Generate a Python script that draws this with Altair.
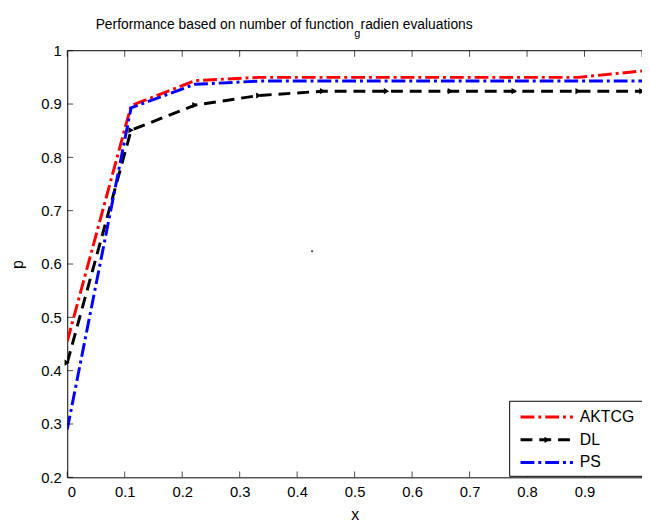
import altair as alt
import pandas as pd

# ---------------- data ----------------
x_vals = [0, 0.1111, 0.2222, 0.3333, 0.4444, 0.5556, 0.6667, 0.7778, 0.8889, 1.0]
aktcg = [0.455, 0.897, 0.944, 0.950, 0.950, 0.950, 0.950, 0.950, 0.950, 0.962]
dl = [0.415, 0.851, 0.898, 0.916, 0.924, 0.924, 0.924, 0.924, 0.924, 0.924]
ps = [0.290, 0.893, 0.937, 0.943, 0.943, 0.943, 0.943, 0.943, 0.943, 0.943]

series_names = ["AKTCG", "DL", "PS"]
series_values = [aktcg, dl, ps]
series_colors = ["#ff0000", "#000000", "#0000ff"]
series_dash = [[14, 4, 3, 4], [12, 7], [14, 4, 3, 4]]

x_ticks = [0, 0.1, 0.2, 0.3, 0.4, 0.5, 0.6, 0.7, 0.8, 0.9]
x_ticks_marks = [0, 0.1, 0.2, 0.3, 0.4, 0.5, 0.6, 0.7, 0.8, 0.9, 1.0]
y_ticks = [0.2, 0.3, 0.4, 0.5, 0.6, 0.7, 0.8, 0.9, 1.0]

stray_x = [0.426]
stray_y = [0.624]

FONT = "Liberation Sans"
W, H = 582, 432

xscale = alt.Scale(domain=[0, 1], nice=False, zero=False)
yscale = alt.Scale(domain=[0.2, 1], nice=False, zero=False)

one = pd.DataFrame({"k": [0]})

layers = []

# data lines
for name, vals, col, dash in zip(series_names, series_values, series_colors, series_dash):
    d = pd.DataFrame({"x": x_vals, "p": vals, "series": name})
    base = alt.Chart(d)
    line = base.mark_line(color=col, strokeWidth=3, strokeDash=dash, clip=True).encode(
        x=alt.X("x:Q", scale=xscale,
                axis=alt.Axis(values=x_ticks, format="~g", title="x", ticks=False, grid=False,
                              domainColor="black", labelPadding=7, titlePadding=8)),
        y=alt.Y("p:Q", scale=yscale,
                axis=alt.Axis(values=y_ticks, format="~g", title="p", ticks=False, grid=False,
                              domainColor="black", labelPadding=6, titlePadding=15)),
    )
    layers.append(line)
    if name == "DL":
        layers.append(base.mark_point(shape="triangle-right", filled=True, color="black", size=40, opacity=1).encode(
            x=alt.X("x:Q"), y=alt.Y("p:Q")))

# inward tick marks
xt = pd.DataFrame({"x": x_ticks_marks})
yt = pd.DataFrame({"p": y_ticks})
layers.append(alt.Chart(xt).mark_tick(orient="vertical", size=6, thickness=1, yOffset=-3, color="black").encode(
    x=alt.X("x:Q"), y=alt.value(H)))
layers.append(alt.Chart(xt).mark_tick(orient="vertical", size=6, thickness=1, yOffset=3, color="black").encode(
    x=alt.X("x:Q"), y=alt.value(0)))
layers.append(alt.Chart(yt).mark_tick(orient="horizontal", size=6, thickness=1, xOffset=3, color="black").encode(
    y=alt.Y("p:Q"), x=alt.value(0)))
# top border
layers.append(alt.Chart(one).mark_rule(color="black", strokeWidth=1).encode(
    y=alt.value(0), x=alt.value(0), x2=alt.value(W + 10)))

# stray dot seen in the reference
layers.append(alt.Chart(pd.DataFrame({"x": stray_x, "p": stray_y})).mark_square(size=4, color="#555555", opacity=1).encode(
    x=alt.X("x:Q"), y=alt.Y("p:Q")))

# legend (manual, matlab style)
layers.append(alt.Chart(one).mark_rect(fill="white", stroke="black", strokeWidth=1).encode(
    x=alt.value(448), x2=alt.value(640), y=alt.value(355), y2=alt.value(431)))
for i, (name, col, dash) in enumerate(zip(series_names, series_colors, series_dash)):
    ry = 371 + 23 * i
    layers.append(alt.Chart(one).mark_rule(color=col, strokeWidth=3, strokeDash=dash).encode(
        x=alt.value(459), x2=alt.value(512), y=alt.value(ry)))
    if name == "DL":
        layers.append(alt.Chart(one).mark_point(shape="triangle-right", filled=True, color="black", size=40, opacity=1).encode(
            x=alt.value(486), y=alt.value(ry)))
    layers.append(alt.Chart(one).mark_text(align="left", baseline="middle", font=FONT, fontSize=16, color="black").encode(
        x=alt.value(519), y=alt.value(ry), text=alt.value(name)))

# title with the TeX-style subscript "g"
layers.append(alt.Chart(one).mark_text(align="right", baseline="alphabetic", font=FONT, fontSize=14, color="black").encode(
    x=alt.value(290), y=alt.value(-22), text=alt.value("Performance based on number of function")))
layers.append(alt.Chart(one).mark_text(align="left", baseline="alphabetic", font=FONT, fontSize=11, color="black").encode(
    x=alt.value(290.5), y=alt.value(-14), text=alt.value("g")))
layers.append(alt.Chart(one).mark_text(align="left", baseline="alphabetic", font=FONT, fontSize=14, color="black").encode(
    x=alt.value(297), y=alt.value(-22), text=alt.value("radien evaluations")))

chart = alt.layer(*layers).properties(
    width=W, height=H,
    autosize=alt.AutoSizeParams(type="none"),
    padding={"left": 60, "top": 40, "right": 0, "bottom": 42},
    background="white",
).configure_view(stroke=None).configure_axis(
    labelFont=FONT, labelFontSize=15, labelColor="black",
    titleFont=FONT, titleFontSize=16, titleFontWeight="normal", titleColor="black",
    domainWidth=1,
)

chart.save("out.html", embed_options={"renderer": "svg", "actions": False})
